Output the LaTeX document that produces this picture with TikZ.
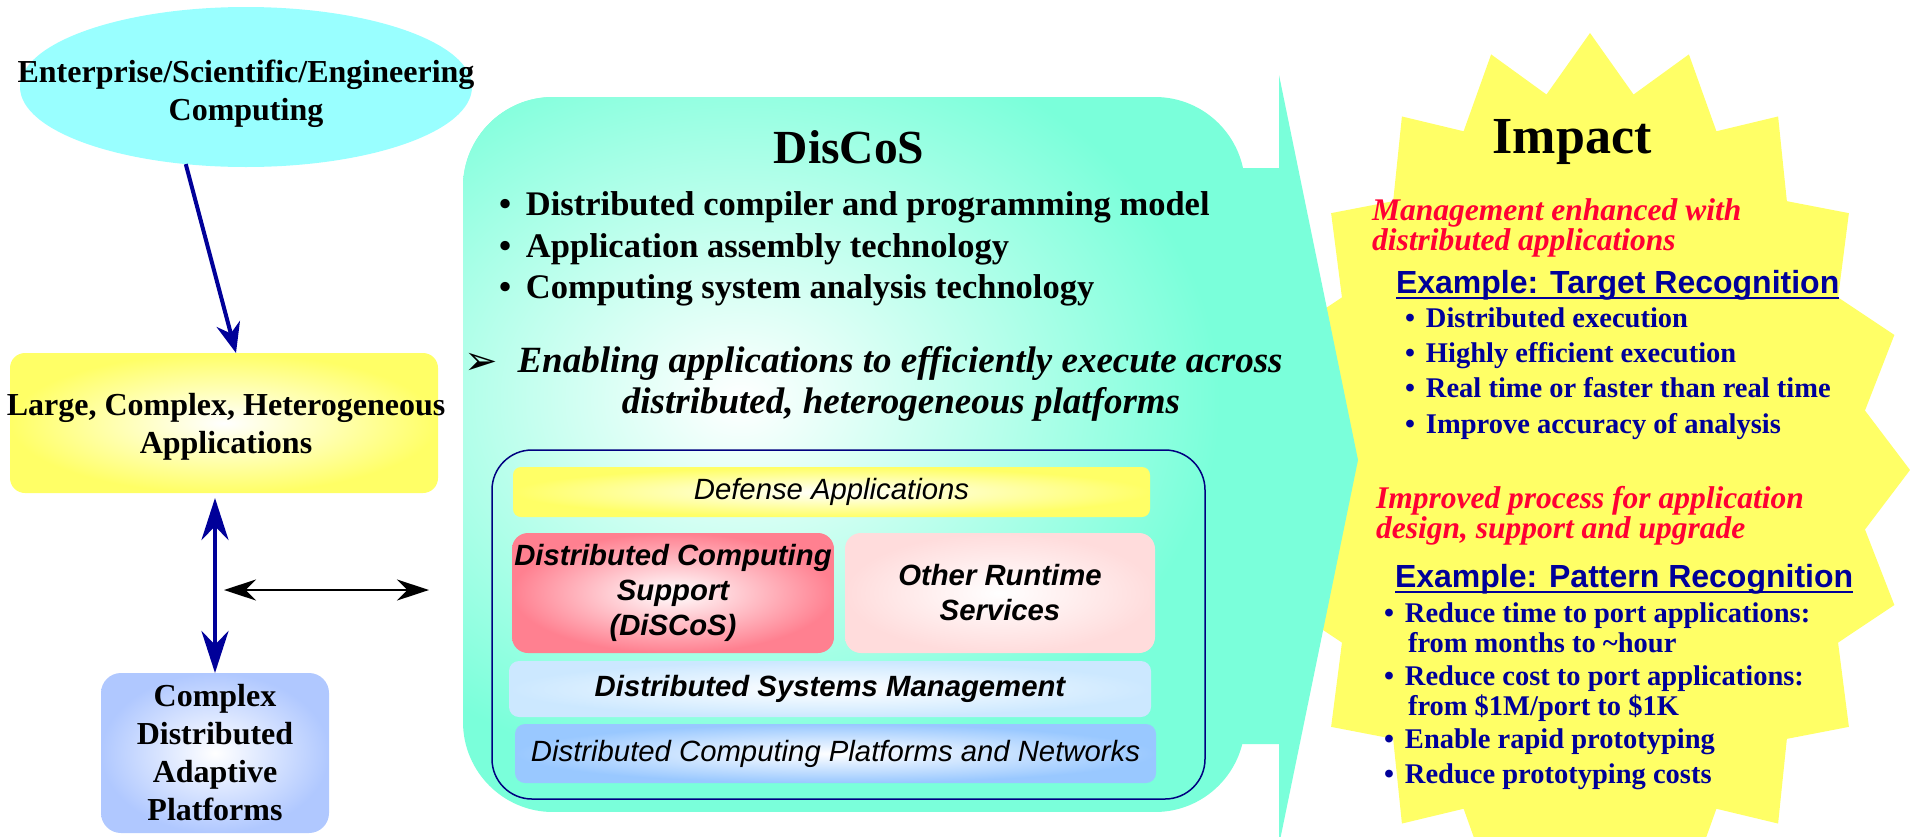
\documentclass[tikz,border=0pt]{standalone}
\usepackage{fontspec}
\setmainfont{Liberation Serif}
\setsansfont{Liberation Sans}
\newfontfamily\dejavu{DejaVu Sans}
\usetikzlibrary{arrows.meta,shapes.geometric}
\definecolor{aqua}{HTML}{7AFFDA}
\definecolor{cyanE}{HTML}{99FFFF}
\definecolor{yel}{HTML}{FFFF66}
\definecolor{navy}{HTML}{000099}
\definecolor{navyline}{HTML}{000080}
\definecolor{redT}{HTML}{FF0033}
\definecolor{periw}{HTML}{B0C8FF}
\definecolor{pinkR}{HTML}{FF8090}
\definecolor{pinkL}{HTML}{FFDCDC}
\definecolor{blueL}{HTML}{CCE8FF}
\definecolor{blueM}{HTML}{99C8FF}
\newcommand{\myfs}[2]{\fontsize{#1}{#2}\selectfont}
\newcommand{\bul}[1]{\makebox[#1][l]{\textbullet}}
\tikzset{
  every node/.style={inner sep=0pt, outer sep=0pt},
  glow/.style={inner color=white, outer color=#1},
  lbl/.style={font=\myfs{32}{38}\bfseries, align=center, text=black},
  dlist/.style={anchor=base west, font=\myfs{34.5}{40}\bfseries},
  enab/.style={anchor=base, font=\myfs{37}{41}\bfseries\itshape},
  sansbi/.style={font=\sffamily\myfs{29.3}{35}\bfseries\itshape, align=center},
  sansi/.style={font=\sffamily\myfs{29.3}{35}\itshape, align=center},
  redit/.style={anchor=base west, text=redT, font=\myfs{31.5}{30}\bfseries\itshape},
  exhead/.style={anchor=base west, text=navy, font=\sffamily\myfs{32}{36}\bfseries},
  nlist/.style={anchor=base west, text=navy, font=\myfs{28.5}{30}\bfseries},
  navyarrow/.style={draw=navy, line width=4pt},
  uline/.style={draw=navy, line width=2.5pt},
}
\begin{document}
\begin{tikzpicture}[x=1pt,y=-1pt]
\clip (0,0) rectangle (1910,836);
\fill[white] (0,0) rectangle (1910,836);

% ---------- yellow burst ----------
\fill[yel] (1910,470) \foreach \i [evaluate=\i as \r using {mod(\i,2)==0?1:0.87}] in {1,...,39} { -- ({1590+320*\r*cos(9*\i)},{470-437*\r*sin(9*\i)}) } -- cycle;

% ---------- teal callout ----------
\fill[aqua] (1200,168) -- (1279,168) -- (1279,75) -- (1358,460) -- (1279,845) -- (1279,744) -- (1200,744) -- cycle;
\begin{scope}
  \clip[rounded corners=90pt] (463,97) rectangle (1245,812);
  \fill[aqua] (463,97) rectangle (1245,812);
  \shade[inner color=white, outer color=aqua] (740,400) ellipse [x radius=480, y radius=380];
\end{scope}

% ---------- left column ----------
\node[ellipse, fill=cyanE, minimum width=452, minimum height=160] (ell) at (246,87) {};
\node[lbl] (elltxt) at (246,94) {Enterprise/Scientific/Engineering\\Computing};

\node[glow=yel, rounded corners=15pt, minimum width=428, minimum height=140] (ybox) at (224,423) {};
\node[lbl] (ytxt) at (226,427) {Large, Complex, Heterogeneous\\Applications};

\node[glow=periw, rounded corners=20pt, minimum width=228, minimum height=160, lbl] (bbox) at (215,753) {Complex\\Distributed\\Adaptive\\Platforms};

\draw[navyarrow, -{Stealth[length=30pt, width=24pt]}] (ell.232) -- ([xshift=12pt]ybox.north);
\draw[navyarrow, {Stealth[length=42pt, width=27pt]}-{Stealth[length=42pt, width=27pt]}] ([yshift=-5pt]ybox.south -| bbox.north) -- (bbox.north);
\coordinate (hl) at (224,590);
\coordinate (hr) at (429,590);
\draw[line width=2pt, {Stealth[length=32pt, width=21pt]}-{Stealth[length=32pt, width=21pt]}] (hl) -- (hr);

% ---------- DisCoS texts ----------
\node[anchor=base, font=\myfs{47.5}{48}\bfseries] (title) at (849,163) {DisCoS};
\node[dlist] (d1) at (499,215) {\bul{27pt}Distributed compiler and programming model};
\node[dlist] (d2) at (499,257) {\bul{27pt}Application assembly technology};
\node[dlist] (d3) at (499,298) {\bul{27pt}Computing system analysis technology};
\node[font=\dejavu\myfs{40}{40}] (arr) at (481,364) {➢};
\node[enab] (e1) at (900,372) {Enabling applications to efficiently execute across};
\node[enab] (e2) at (901,413) {distributed, heterogeneous platforms};

% ---------- inner stack ----------
\node[draw=navyline, line width=1.5pt, rounded corners=40pt, minimum width=713, minimum height=349] (inner) at (848.5,624.5) {};
\node[glow=yel, rounded corners=8pt, minimum width=637, minimum height=50, sansi] (def) at (831.5,492) {Defense Applications};
\node[glow=pinkR, rounded corners=16pt, minimum width=322, minimum height=120, sansbi] (dcs) at (673,593) {Distributed Computing\\Support\\(DiSCoS)};
\node[glow=pinkL, rounded corners=16pt, minimum width=310, minimum height=120, sansbi] (ors) at (1000,593) {Other Runtime\\Services};
\node[glow=blueL, rounded corners=10pt, minimum width=642, minimum height=56, sansbi] (dsm) at (830,689) {Distributed Systems Management};
\node[glow=blueM, rounded corners=10pt, minimum width=641, minimum height=59, sansi] (dcp) at (835.5,753.5) {Distributed Computing Platforms and Networks};

% ---------- Impact texts ----------
\node[anchor=base, font=\myfs{52}{52}\bfseries] (impact) at (1572,153) {Impact};
\node[redit] (m1) at (1372,220) {Management enhanced with};
\node[redit] (m2) at (1372,250) {distributed applications};
\node[exhead] (ex1) at (1396,293) {Example: Target Recognition};
\draw[uline] ([yshift=-5pt]ex1.base west) -- ([yshift=-5pt]ex1.base east);
\node[nlist] (t1) at (1405,327) {\bul{21pt}Distributed execution};
\node[nlist] (t2) at (1405,362) {\bul{21pt}Highly efficient execution};
\node[nlist] (t3) at (1405,397) {\bul{21pt}Real time or faster than real time};
\node[nlist] (t4) at (1405,433) {\bul{21pt}Improve accuracy of analysis};

\node[redit] (i1) at (1376,508) {Improved process for application};
\node[redit] (i2) at (1376,538) {design, support and upgrade};
\node[exhead] (ex2) at (1395,587) {Example: Pattern Recognition};
\draw[uline] ([yshift=-5pt]ex2.base west) -- ([yshift=-5pt]ex2.base east);
\node[nlist] (p1) at (1384,622) {\bul{21pt}Reduce time to port applications:};
\node[nlist] (p1b) at (1408,652) {from months to \textasciitilde hour};
\node[nlist] (p2) at (1384,685) {\bul{21pt}Reduce cost to port applications:};
\node[nlist] (p2b) at (1408,715) {from \$1M/port to \$1K};
\node[nlist] (p3) at (1384,748) {\bul{21pt}Enable rapid prototyping};
\node[nlist] (p4) at (1384,783) {\bul{21pt}Reduce prototyping costs};
\end{tikzpicture}
\end{document}
